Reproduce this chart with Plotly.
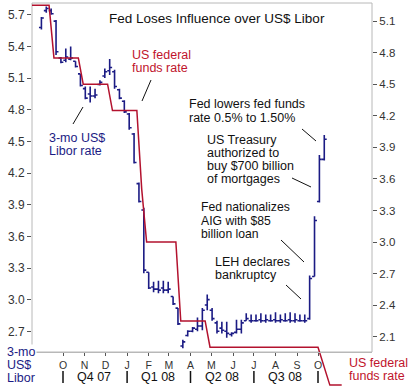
import plotly.graph_objects as go
import pandas as pd

# ---------------- data ----------------
week_dates = pd.date_range("2007-08-31", periods=59, freq="7D")  # weekly (Friday) bars

libor_open = [5.58, 5.74, 5.74, 5.64, 5.29, 5.27, 5.28, 5.26, 5.14, 5.00, 4.95, 4.93, 5.04, 5.12, 5.17,
              5.16, 4.99, 4.88, 4.76, 4.57, 4.10, 3.85, 3.26, 3.12, 3.10, 3.11, 3.09, 3.03, 2.92, 2.56,
              2.66, 2.70, 2.72, 2.75, 2.95, 2.90, 2.78, 2.73, 2.70, 2.67, 2.69, 2.72, 2.80,
              2.80, 2.80, 2.81, 2.80, 2.80, 2.81, 2.80, 2.80, 2.81, 2.80, 2.80, 2.80,
              2.82, 3.22, 3.93, 4.33]
libor_high = [5.68, 5.78, 5.76, 5.65, 5.30, 5.38, 5.40, 5.26, 5.14, 5.02, 5.02, 5.00, 5.08, 5.19, 5.28,
              5.18, 5.00, 4.89, 4.77, 4.58, 4.11, 3.87, 3.26, 3.17, 3.18, 3.18, 3.17, 3.03, 2.92, 2.62,
              2.71, 2.74, 2.83, 2.92, 3.05, 2.92, 2.80, 2.79, 2.79, 2.69, 2.81, 2.81, 2.87,
              2.86, 2.86, 2.87, 2.86, 2.86, 2.88, 2.86, 2.87, 2.88, 2.87, 2.86, 2.86,
              3.23, 3.79, 4.37, 4.56]
libor_low = [5.56, 5.72, 5.70, 5.32, 5.24, 5.25, 5.27, 5.20, 5.02, 4.90, 4.87, 4.91, 5.03, 5.10, 5.13,
             5.00, 4.90, 4.77, 4.61, 4.29, 3.92, 3.25, 3.10, 3.07, 3.06, 3.06, 3.06, 2.95, 2.76, 2.54,
             2.65, 2.69, 2.70, 2.71, 2.90, 2.80, 2.68, 2.68, 2.64, 2.65, 2.68, 2.68, 2.80,
             2.78, 2.79, 2.78, 2.78, 2.79, 2.78, 2.78, 2.79, 2.78, 2.78, 2.79, 2.78,
             2.81, 3.22, 3.92, 4.32]
libor_close = [5.67, 5.76, 5.71, 5.35, 5.25, 5.30, 5.29, 5.21, 5.03, 4.91, 4.93, 4.94, 5.06, 5.16, 5.20,
               5.02, 4.91, 4.78, 4.63, 4.30, 3.93, 3.28, 3.11, 3.10, 3.09, 3.09, 3.10, 2.96, 2.77, 2.60,
               2.70, 2.73, 2.75, 2.90, 3.00, 2.82, 2.70, 2.71, 2.68, 2.68, 2.72, 2.78, 2.82,
               2.80, 2.80, 2.80, 2.81, 2.80, 2.80, 2.81, 2.80, 2.80, 2.81, 2.80, 2.80,
               3.20, 3.75, 4.33, 4.52]

fed_dates = ["2007-08-17", "2007-09-11", "2007-09-18", "2007-10-23", "2007-10-30", "2007-12-04",
             "2007-12-11", "2008-01-15", "2008-01-22", "2008-01-29", "2008-03-11", "2008-03-18",
             "2008-04-22", "2008-04-29", "2008-10-01", "2008-10-18", "2008-11-04"]
fed_rate = [5.25, 5.25, 4.75, 4.75, 4.50, 4.50, 4.25, 4.25, 3.50, 3.00, 3.00, 2.25,
            2.25, 2.00, 2.00, 1.64, 1.64]

month_ticks = ["2007-10-01", "2007-11-01", "2007-12-01", "2008-01-01", "2008-02-01", "2008-03-01",
               "2008-04-01", "2008-05-01", "2008-06-01", "2008-07-01", "2008-08-01", "2008-09-01",
               "2008-10-01"]
month_labels = ["O", "N", "D", "J", "F", "M", "A", "M", "J", "J", "A", "S", "O"]
quarter_mid = ["2007-11-15", "2008-02-15", "2008-05-16", "2008-08-15"]
quarter_labels = ["Q4 07", "Q1 08", "Q2 08", "Q3 08"]
quarter_bounds = ["2007-10-01", "2008-01-01", "2008-04-01", "2008-07-01", "2008-10-01"]

left_ticks = [2.7, 3.0, 3.3, 3.6, 3.9, 4.2, 4.5, 4.8, 5.1, 5.4, 5.7]
right_ticks = [2.1, 2.4, 2.7, 3.0, 3.3, 3.6, 3.9, 4.2, 4.5, 4.8, 5.1]

# ---------------- style ----------------
W, H = 409, 387
ML, MR, MT, MB = 32, 37, 3, 0
PW, PH = W - ML - MR, H - MT - MB
NAVY = "#1b1b84"
RED = "#b3122e"
RED_TXT = "#c0142c"
FONT = "Liberation Sans, Arial, sans-serif"
AX_POS = (H - 352) / PH  # x axis line position (paper)


def px(x):
    return (x - ML) / PW


def py(y):
    return (H - y) / PH


fig = go.Figure()
fig.add_trace(go.Ohlc(
    x=week_dates, open=libor_open, high=libor_high, low=libor_low, close=libor_close,
    increasing=dict(line=dict(color=NAVY, width=1.6)),
    decreasing=dict(line=dict(color=NAVY, width=1.6)),
    tickwidth=0.5, hoverinfo="skip", yaxis="y", name="3-mo US$ Libor"))
fig.add_trace(go.Scatter(
    x=fed_dates, y=fed_rate, mode="lines", yaxis="y2",
    line=dict(color=RED, width=1.5), hoverinfo="skip", name="US federal funds rate"))

annotations = []


def add_text(lines, x, ys, color="#111111", size=12.5, bg=None):
    for ln, yy in zip(lines, ys):
        a = dict(text=ln, x=px(x), y=py(yy), xref="paper", yref="paper", xanchor="left",
                 yanchor="middle", showarrow=False, borderpad=0,
                 font=dict(family=FONT, size=size, color=color))
        if bg:
            a["bgcolor"] = bg
        annotations.append(a)


annotations.append(dict(text="Fed Loses Influence over US$ Libor", x=px(216.5), y=py(19), xref="paper",
                        yref="paper", xanchor="center", yanchor="middle", showarrow=False,
                        font=dict(family=FONT, size=13.5, color="#111111")))
add_text(["US federal", "funds rate"], 131, [55, 68], RED_TXT)
add_text(["3-mo US$", "Libor rate"], 48, [137.5, 151], NAVY)
add_text(["Fed lowers fed funds", "rate 0.5% to 1.50%"], 188, [104, 117.5])
add_text(["US Treasury", "authorized to", "buy $700 billion", "of mortgages"], 206, [139.5, 152.5, 165.5, 178.5])
add_text(["Fed nationalizes", "AIG with $85", "billion loan"], 200, [207.5, 221, 234.5], size=12.2)
add_text(["LEH declares", "bankruptcy"], 214, [262, 275])
add_text(["3-mo"], 6, [352], NAVY, bg="white")
add_text(["US$", "Libor"], 6, [364.5, 377.5], NAVY)
add_text(["US federal", "funds rate"], 348, [363, 376], RED_TXT)

for d, lab in zip(quarter_mid, quarter_labels):
    annotations.append(dict(text=lab, x=d, y=py(377), xref="x", yref="paper", xanchor="center",
                            yanchor="middle", showarrow=False,
                            font=dict(family=FONT, size=12.5, color="#111111")))

shapes = [dict(type="rect", xref="paper", yref="paper", x0=0, x1=1, y0=AX_POS, y1=1,
               line=dict(color="#b8b8b8", width=1), layer="below")]
for d in quarter_bounds:
    shapes.append(dict(type="line", xref="x", yref="paper", x0=d, x1=d, y0=py(383), y1=py(371),
                       line=dict(color="#111111", width=1.5)))

leaders = [(151, 80, 142, 101), (73, 124, 83, 107), (302, 129, 316, 141),
           (292, 178, 311, 187), (281, 240, 304, 262), (286, 285, 301, 299)]
for x0, y0, x1, y1 in leaders:
    shapes.append(dict(type="line", xref="paper", yref="paper", x0=px(x0), y0=py(y0), x1=px(x1),
                       y1=py(y1), line=dict(color="#111111", width=1)))

fig.update_layout(
    width=W, height=H, margin=dict(l=ML, r=MR, t=MT, b=MB, autoexpand=False),
    paper_bgcolor="white", plot_bgcolor="white", showlegend=False,
    font=dict(family=FONT, color="#333333"),
    xaxis=dict(type="date", range=["2007-08-17 12:00", "2008-12-17 12:00"], anchor="free",
               position=AX_POS, showgrid=False, zeroline=False, showline=True, linecolor="#b8b8b8",
               ticks="outside", ticklen=3, tickcolor="#555555", tickvals=month_ticks,
               ticktext=month_labels, tickfont=dict(size=10.5, color="#333333"),
               rangeslider=dict(visible=False), automargin=False),
    yaxis=dict(domain=[0, 1], range=[2.172, 5.812], tickvals=left_ticks,
               ticktext=[f"{v:.1f}" for v in left_ticks], showgrid=False, zeroline=False,
               showline=False, ticks="outside", ticklen=4, tickcolor="#555555",
               tickfont=dict(size=12, color="#333333"), automargin=False),
    yaxis2=dict(overlaying="y", side="right", range=[1.622, 5.272], tickvals=right_ticks,
                ticktext=[f"{v:.1f}" for v in right_ticks], showgrid=False, zeroline=False,
                showline=False, ticks="outside", ticklen=4, tickcolor="#555555",
                tickfont=dict(size=11.5, color="#333333"), automargin=False),
    annotations=annotations, shapes=shapes,
)

fig.write_html("out.html", config={"displayModeBar": False},
               post_script="document.body.style.margin='0';document.body.style.overflow='hidden';")
